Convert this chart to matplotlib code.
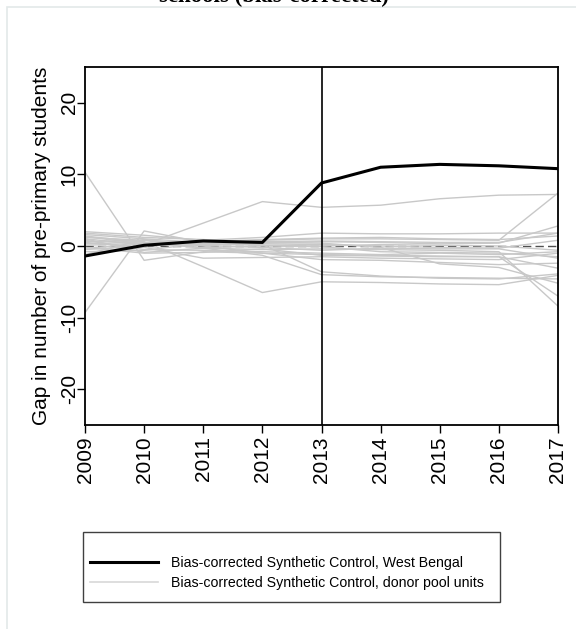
import matplotlib.pyplot as plt
from matplotlib.patches import Rectangle
from matplotlib.lines import Line2D

plt.rcParams['font.family'] = ['Liberation Sans', 'DejaVu Sans']

years = [2009, 2010, 2011, 2012, 2013, 2014, 2015, 2016, 2017]
treatment_year = 2013

west_bengal = [-1.4, 0.1, 0.7, 0.5, 8.8, 11.0, 11.4, 11.2, 10.8]

donor_units = [
    [10.3, -2.0, -0.8, -1.0, -1.2, -1.3, -1.4, -1.5, -7.0],
    [-9.3, 2.1, 0.5, 0.3, 0.2, 0.0, -0.2, -0.3, 0.8],
    [1.0, 0.2, 3.2, 6.2, 5.4, 5.7, 6.6, 7.1, 7.2],
    [0.3, 0.6, -2.9, -6.5, -5.0, -5.1, -5.3, -5.4, -4.1],
    [2.0, 1.5, 0.8, 1.2, 1.8, 1.7, 1.7, 1.8, 1.8],
    [1.6, 1.0, 0.5, 0.8, 1.0, 1.0, 0.9, 0.8, 7.4],
    [1.4, 0.5, 0.2, 0.4, 0.6, 0.5, 0.3, 0.4, 2.8],
    [1.2, 0.8, -0.3, -0.5, -0.4, -0.5, -0.6, -0.8, -8.4],
    [0.8, -0.5, -0.6, -0.8, -1.0, -1.2, -1.0, -1.2, -0.8],
    [0.5, -0.2, -1.7, -1.6, -1.5, -1.7, -1.8, -1.9, -1.0],
    [-0.3, 0.3, 0.1, -0.2, -0.6, -0.3, -0.4, -0.4, -1.7],
    [-0.8, -0.6, 0.4, 0.2, -3.6, -4.2, -4.5, -4.6, -3.9],
    [1.8, 1.2, 0.9, 0.5, 0.4, -0.2, -2.5, -3.0, -5.2],
    [-1.2, 0.9, 0.0, -1.0, -1.9, -2.0, -2.3, -2.6, -2.4],
    [0.1, 0.4, 0.6, 0.9, 1.1, 1.2, 1.0, 0.9, 1.4],
    [1.0, -0.9, -0.3, -1.3, -4.0, -4.3, -4.4, -4.5, -4.6],
    [-0.5, 0.0, 0.3, 0.1, 0.0, 0.2, 0.1, 0.0, -0.6],
    [0.6, 0.8, 0.3, 0.6, 0.7, 0.6, 0.5, 0.5, 1.8],
    [-0.2, -1.0, -0.9, -0.4, -1.3, -1.4, -1.5, -1.5, -3.1],
    [1.3, 0.3, -0.2, 0.0, -0.1, -0.8, -0.9, -1.0, -1.5],
]

y_ticks = [-20, -10, 0, 10, 20]
legend_labels = ['Bias-corrected Synthetic Control, West Bengal',
                 'Bias-corrected Synthetic Control, donor pool units']

W, H = 576, 629
fig = plt.figure(figsize=(W / 100, H / 100), dpi=100)
ax = fig.add_axes([85 / W, 1 - 425 / H, (558 - 85) / W, (425 - 67) / H])

# zero reference line
ax.axhline(0, color='#505050', lw=1, ls=(0, (6, 3)), zorder=1)

for d in donor_units:
    ax.plot(years, d, color='#c8c8c8', lw=1, zorder=2)

ax.plot(years, west_bengal, color='black', lw=2.2, zorder=4)
ax.axvline(treatment_year, color='black', lw=1.2, zorder=5)

ax.set_xlim(years[0], years[-1])
ax.set_ylim(-25, 25)
ax.set_xticks(years)
ax.set_xticklabels([str(y) for y in years], rotation=90, fontsize=15)
ax.set_yticks(y_ticks)
ax.set_yticklabels([str(t) for t in y_ticks], rotation=90, va='center', fontsize=15)
ax.tick_params(direction='out', length=6, width=1, pad=2)
ax.tick_params(axis='y', pad=-1.5)
for s in ax.spines.values():
    s.set_linewidth(1.3)
ax.set_ylabel('Gap in number of pre-primary students', fontsize=15)
ax.yaxis.set_label_coords(-0.072, 0.5)

# clipped title (only the last line shows)
fig.text(274 / W, 1 - 2 / H, 'schools (bias-corrected)', ha='center', va='baseline',
         fontsize=16.5, fontweight='bold', family='Liberation Serif')

# faint outer graph-region frame
fig.patches.append(Rectangle((7 / W, -0.05), 1.0, 1.05 - 7 / H,
                             transform=fig.transFigure, fill=False,
                             edgecolor='#e3e9e9', lw=1.2))

# legend box
fig.patches.append(Rectangle((83 / W, 1 - 602 / H), (500 - 83) / W, 70 / H,
                             transform=fig.transFigure, fill=False,
                             edgecolor='#404040', lw=1))
handles = [Line2D([], [], color='black', lw=2.2),
           Line2D([], [], color='#d8d8d8', lw=1.2)]
fig.legend(handles, legend_labels, loc='upper left',
           bbox_to_anchor=(90 / W, 1 - 556 / H), frameon=False, fontsize=10.2,
           handlelength=4.8, handletextpad=0.9, labelspacing=0.45,
           borderpad=0, borderaxespad=0)

fig.savefig('out.png', dpi=100)
